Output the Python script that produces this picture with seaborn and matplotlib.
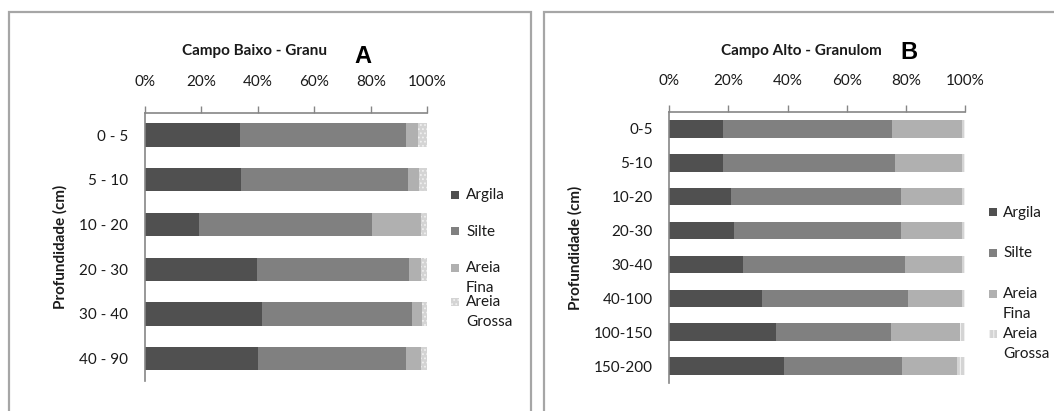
import numpy as np
import pandas as pd
import matplotlib
matplotlib.use("Agg")
import matplotlib.pyplot as plt
from matplotlib.patches import Rectangle
import seaborn as sns

sns.set_theme(style="white")
plt.rcParams['font.family'] = ['Lato', 'DejaVu Sans']
plt.rcParams['hatch.linewidth'] = 0.8

series = ["Argila", "Silte", "Areia Fina", "Areia Grossa"]
legend_labels = ["Argila", "Silte", "Areia\nFina", "Areia\nGrossa"]
colors = ["#505050", "#808080", "#b0b0b0", "#d4d4d4"]

# Panel A - Campo Baixo
depth_a = ["0 - 5", "5 - 10", "10 - 20", "20 - 30", "30 - 40", "40 - 90"]
argila_a = [33.6, 34.1, 19.3, 39.8, 41.5, 40.0]
silte_a = [59.0, 59.1, 61.3, 53.8, 53.0, 52.6]
fina_a = [4.1, 4.0, 17.3, 4.3, 3.7, 5.3]
grossa_a = [3.3, 2.8, 2.1, 2.1, 1.8, 2.1]

# Panel B - Campo Alto
depth_b = ["0-5", "5-10", "10-20", "20-30", "30-40", "40-100", "100-150", "150-200"]
argila_b = [18.2, 18.2, 20.9, 21.9, 24.9, 31.3, 36.1, 38.8]
silte_b = [57.1, 58.1, 57.5, 56.5, 54.8, 49.4, 38.9, 39.9]
fina_b = [23.7, 22.7, 20.6, 20.6, 19.3, 18.3, 23.4, 18.6]
grossa_b = [1.0, 1.0, 1.0, 1.0, 1.0, 1.0, 1.6, 2.7]

fig = plt.figure(figsize=(10.54, 4.11), dpi=100)

# panel frames
for x0, x1 in [(8.5, 531.0), (544.0, 1100.0)]:
    fig.add_artist(Rectangle((x0 / 1054, -0.1), (x1 - x0) / 1054, 0.1 + 1 - 12 / 411,
                             transform=fig.transFigure, fill=False,
                             edgecolor="#a6a6a6", lw=1.6))


def draw(ax, depths, vals, hatch):
    df = pd.DataFrame({"depth": depths})
    cum = np.zeros(len(depths))
    cums = []
    for v in vals:
        cum = cum + np.array(v)
        cums.append(cum.copy())
    for i in reversed(range(len(vals))):
        df["c"] = cums[i]
        n_before = len(ax.patches)
        sns.barplot(data=df, x="c", y="depth", orient="h", color=colors[i],
                    width=0.52, ax=ax, saturation=1, edgecolor="none", linewidth=0)
        if i == 3:
            for p in ax.patches[n_before:]:
                p.set_hatch(hatch)
                p.set_edgecolor("#f0f0f0")
                p.set_linewidth(0)
    ax.set_xlim(0, 100)
    ax.set_ylim(len(depths) - 0.5, -0.5)
    ax.xaxis.tick_top()
    ax.set_xticks([0, 20, 40, 60, 80, 100])
    ax.set_xticklabels(["0%", "20%", "40%", "60%", "80%", "100%"])
    ax.tick_params(axis="x", top=True, length=5, width=1, color="#868686",
                   labelsize=11, pad=12, labelcolor="#1a1a1a")
    ax.tick_params(axis="y", left=False, labelsize=11, pad=6, labelcolor="#1a1a1a")
    for s in ["right", "bottom"]:
        ax.spines[s].set_visible(False)
    for s in ["top", "left"]:
        ax.spines[s].set_color("#868686")
        ax.spines[s].set_linewidth(1.2)
    ax.set_xlabel("")
    ax.set_ylabel("Profundidade (cm)", fontsize=11, fontweight="bold", labelpad=8,
                  color="#1a1a1a")
    ax.set_facecolor("none")


axA = fig.add_axes([144.7 / 1054, 1 - 381 / 411, (427.3 - 144.7) / 1054, (381 - 112.7) / 411])
draw(axA, depth_a, [argila_a, silte_a, fina_a, grossa_a], "....")
axB = fig.add_axes([669.3 / 1054, 1 - 383 / 411, (965 - 669.3) / 1054, (383 - 112) / 411])
draw(axB, depth_b, [argila_b, silte_b, fina_b, grossa_b], "||||")

# titles
fig.text(254 / 1054, 1 - 51 / 411, "Campo Baixo - Granu", ha="center", va="center",
         fontsize=11, fontweight="bold", color="#1a1a1a")
fig.text(363 / 1054, 1 - 56 / 411, "A", ha="center", va="center", fontsize=17,
         fontweight="bold", family="Liberation Sans", color="black")
fig.text(801 / 1054, 1 - 51 / 411, "Campo Alto - Granulom", ha="center", va="center",
         fontsize=11, fontweight="bold", color="#1a1a1a")
fig.text(909 / 1054, 1 - 52 / 411, "B", ha="center", va="center", fontsize=17,
         fontweight="bold", family="Liberation Sans", color="black")


def legend(xp, xt, ys, hatch):
    for i, (lab, y) in enumerate(zip(legend_labels, ys)):
        r = Rectangle((xp / 1054, 1 - (y + 4) / 411), 8 / 1054, 8 / 411,
                      transform=fig.transFigure, facecolor=colors[i],
                      edgecolor="#f0f0f0" if i == 3 else "none", lw=0,
                      hatch=hatch if i == 3 else None)
        fig.add_artist(r)
        fig.text(xt / 1054, 1 - (y - 7) / 411, lab, ha="left", va="top", fontsize=11,
                 color="#1a1a1a", linespacing=1.55)


legend(451, 466, [195, 231.5, 268, 302], "....")
legend(989, 1003, [212.5, 253, 294, 333.5], "||||")

fig.savefig("out.png", dpi=100)
